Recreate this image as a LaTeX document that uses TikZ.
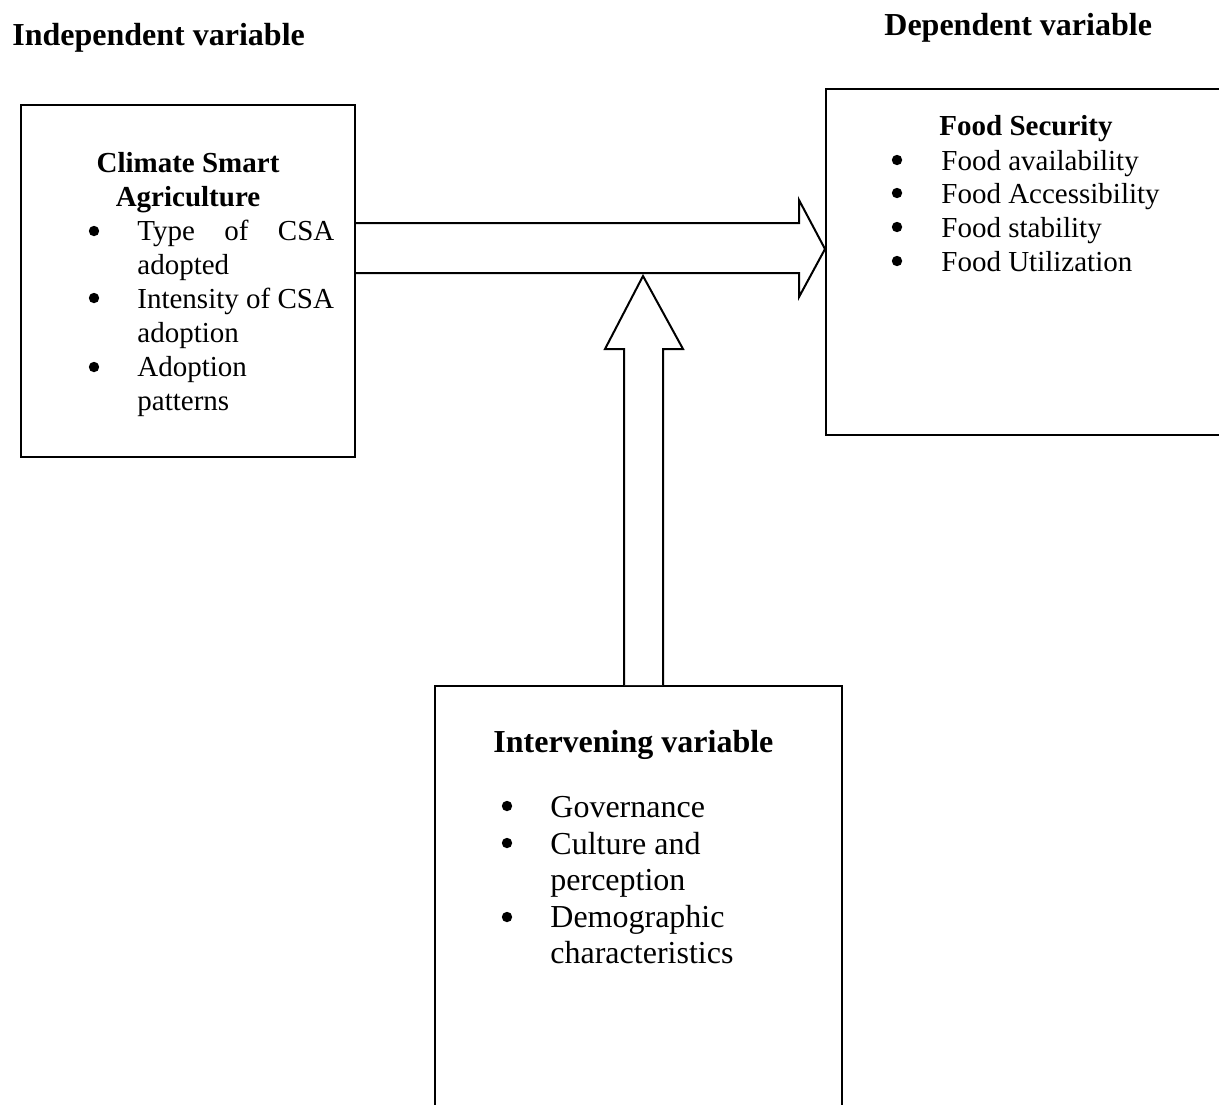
\documentclass[tikz,border=0pt]{standalone}
\usepackage{fontspec}
\setmainfont{Liberation Serif}
\usetikzlibrary{positioning,calc}
\tikzset{
        varbox/.style={draw, line width=1pt, inner sep=0pt, anchor=north west}, % the three variable boxes
        blockarrow/.style={draw, line width=1pt, line join=miter, fill=white},
        heading/.style={font=\fontsize{16}{19}\selectfont\bfseries, anchor=base west, inner sep=0pt},
        boxtitle/.style={font=\fontsize{14.5}{17}\selectfont\bfseries, anchor=base, inner sep=0pt},
        item/.style={font=\fontsize{14.5}{17}\selectfont, anchor=base west, inner sep=0pt},
        bigitem/.style={font=\fontsize{16}{19}\selectfont, anchor=base west, inner sep=0pt},
        dot/.style={circle, fill, inner sep=0pt, minimum size=5.2pt}, % list bullets
}

\begin{document}
\begin{tikzpicture}[x=0.5pt, y=-0.5pt]
\useasboundingbox[fill=white] (0,0) rectangle (1219,1104);
\clip (0,0) rectangle (1219,1104);

% headings
\node[heading] (indep) at (12,45) {Independent variable};
\node[heading] (dep) at (884,35) {Dependent variable};

% boxes
\node[varbox, minimum width=167pt, minimum height=176pt] (csa) at (20,104) {};
\node[varbox, minimum width=215pt, minimum height=173pt] (food) at (825,88) {};
\node[varbox, minimum width=203.5pt, minimum height=220pt] (interv) at (434,685) {};

% block arrows
\draw[blockarrow] (csa.east |- 0,223) -- (799,223) -- (799,200) -- (food.west |- 0,249)
        -- (799,297) -- (799,273) -- (csa.east |- 0,273);
\draw[blockarrow] (624,0 |- interv.north) -- (624,349) -- (605,349) -- (643,276)
        -- (683,349) -- (663,349) -- (663,0 |- interv.north);

% independent variable
\node[boxtitle] (csat1) at (188,172) {Climate Smart};
\node[boxtitle] (csat2) at (188,206) {Agriculture};
\node[dot] (cb1) at (94,231) {};
\node[dot] (cb2) at (94,298) {};
\node[dot] (cb3) at (94,367) {};
\node[item] (c1) at (137,240) {\makebox[98.5pt][s]{Type of CSA}};
\node[item] (c2) at (137,274) {adopted};
\node[item] (c3) at (137,308) {Intensity of CSA};
\node[item] (c4) at (137,342) {adoption};
\node[item] (c5) at (137,376) {Adoption};
\node[item] (c6) at (137,410) {patterns};

% dependent variable
\node[boxtitle, anchor=base west] (foodt) at (939,135) {Food Security};
\node[dot] (fb1) at (897,160) {};
\node[dot] (fb2) at (897,193) {};
\node[dot] (fb3) at (897,227) {};
\node[dot] (fb4) at (897,261) {};
\node[item] (f1) at (941,170) {Food availability};
\node[item] (f2) at (941,203) {Food Accessibility};
\node[item] (f3) at (941,237) {Food stability};
\node[item] (f4) at (941,271) {Food Utilization};

% intervening variable
\node[heading] (intt) at (493,752) {Intervening variable};
\node[dot] (ib1) at (507,806) {};
\node[dot] (ib2) at (507,843) {};
\node[dot] (ib3) at (507,917) {};
\node[bigitem] (i1) at (550,817) {Governance};
\node[bigitem] (i2) at (550,854) {Culture and};
\node[bigitem] (i3) at (550,890) {perception};
\node[bigitem] (i4) at (550,927) {Demographic};
\node[bigitem] (i5) at (550,963) {characteristics};

\end{tikzpicture}
\end{document}
